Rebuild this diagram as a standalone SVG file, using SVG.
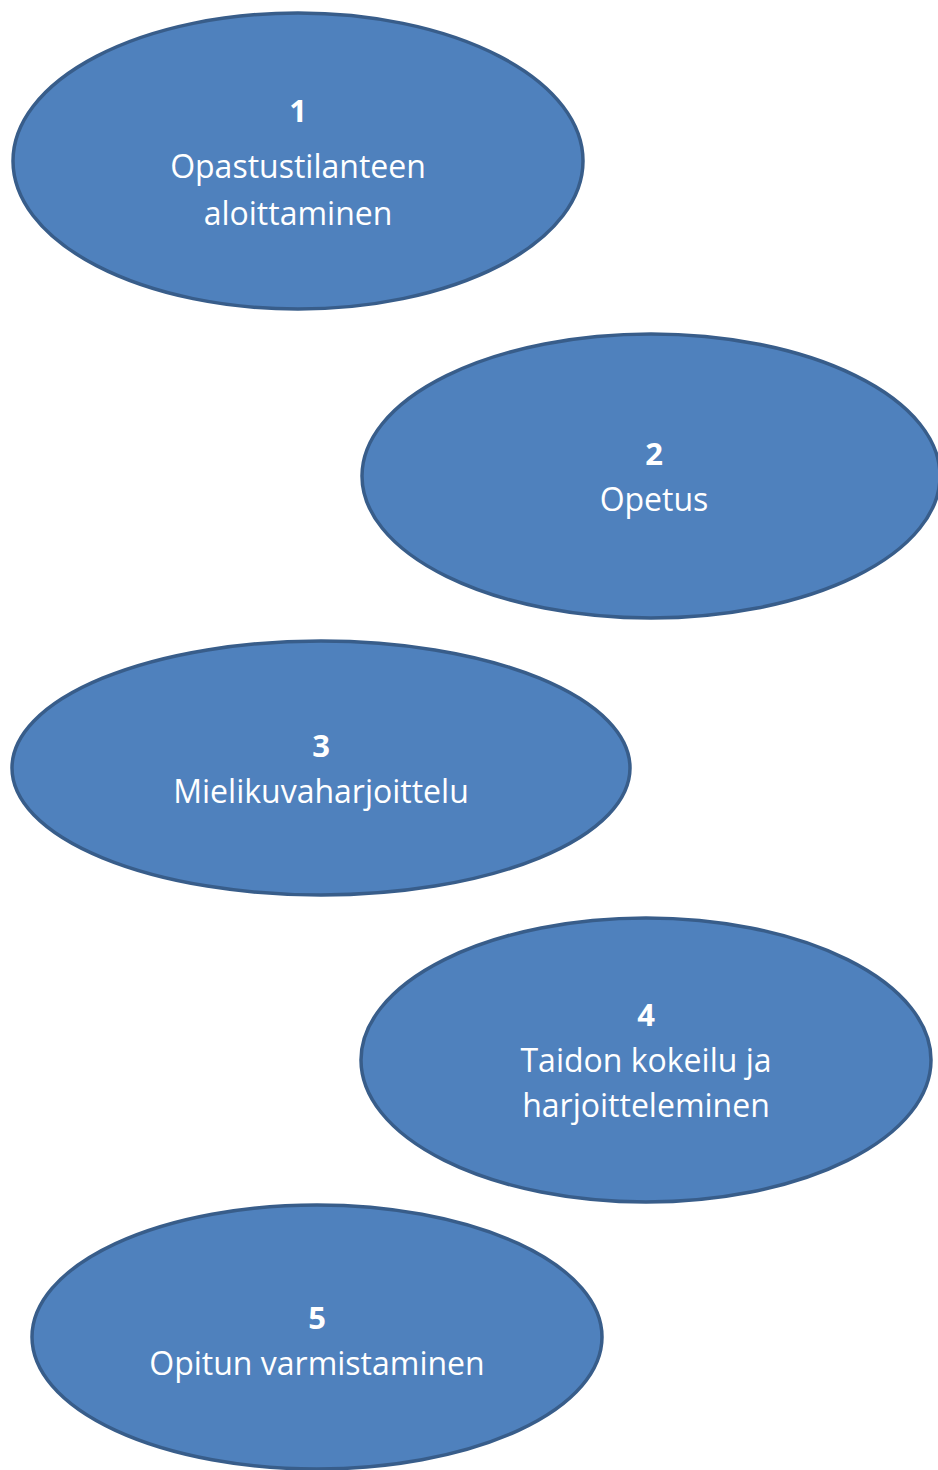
<svg xmlns="http://www.w3.org/2000/svg" width="938" height="1470" viewBox="0 0 938 1470">
<style>
.n{fill:#4F81BD;stroke:#385D8A;stroke-width:3.5}
.t{font-family:"Open Sans","Liberation Sans",sans-serif;font-size:32px;fill:#FFFFFF;text-anchor:middle}
.b{font-weight:bold;font-size:31px}
</style>
<rect width="938" height="1470" fill="#FFFFFF"/>
<g id="node1">
<ellipse class="n" cx="298" cy="161" rx="285" ry="148"/>
<text class="t b" x="298" y="122">1</text>
<text class="t" x="298" y="178">Opastustilanteen</text>
<text class="t" x="298" y="225">aloittaminen</text>
</g>
<g id="node2">
<ellipse class="n" cx="651" cy="476" rx="289" ry="142"/>
<text class="t b" x="654" y="465">2</text>
<text class="t" x="654" y="511">Opetus</text>
</g>
<g id="node3">
<ellipse class="n" cx="321" cy="768" rx="309" ry="127"/>
<text class="t b" x="321" y="757">3</text>
<text class="t" x="321" y="803">Mielikuvaharjoittelu</text>
</g>
<g id="node4">
<ellipse class="n" cx="646" cy="1060" rx="285" ry="142"/>
<text class="t b" x="646" y="1026">4</text>
<text class="t" x="646" y="1072">Taidon kokeilu ja</text>
<text class="t" x="646" y="1117">harjoitteleminen</text>
</g>
<g id="node5">
<ellipse class="n" cx="317" cy="1337" rx="285" ry="132"/>
<text class="t b" x="317" y="1329">5</text>
<text class="t" x="317" y="1375">Opitun varmistaminen</text>
</g>
<g id="connectors"/>
</svg>
